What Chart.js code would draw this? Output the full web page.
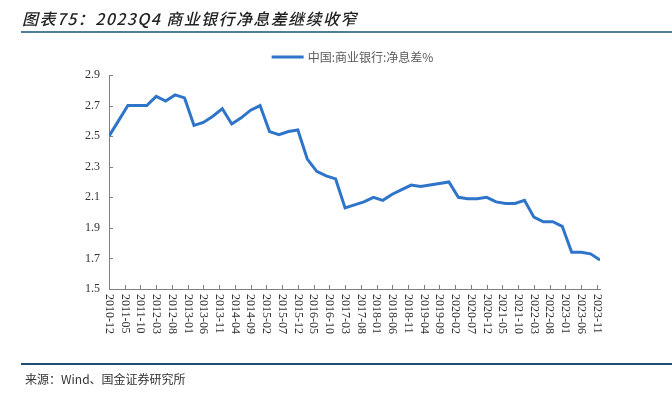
<!DOCTYPE html>
<html>
<head>
<meta charset="utf-8">
<script src="https://cdn.jsdelivr.net/npm/chart.js@4.4.1/dist/chart.umd.min.js"></script>
<style>
  html, body { margin: 0; padding: 0; background: #fff; }
  #page { position: relative; width: 672px; height: 394px; overflow: hidden; }
  #chart-wrap { position: absolute; left: 0; top: 0; width: 672px; height: 394px; }
  .title {
    position: absolute; left: 22px; top: 6px;
    font-family: "Noto Sans CJK SC", sans-serif; font-size: 16px; font-style: italic;
    font-weight: 500; letter-spacing: 1.4px; color: #222; white-space: nowrap;
  }
  .title-rule { position: absolute; left: 21px; right: 0; top: 31px; height: 2px; background: #4f7d9a; }
  .foot-rule { position: absolute; left: 21px; right: 0; top: 363px; height: 2px; background: #1f4e79; }
  .source {
    position: absolute; left: 25px; top: 370px;
    font-family: "Noto Sans CJK SC", sans-serif; font-size: 12px; color: #333; white-space: nowrap;
  }
</style>
</head>
<body>
<div id="page">
  <div id="chart-wrap"><canvas id="nim-chart"></canvas></div>
  <div class="title">图表75：2023Q4 商业银行净息差继续收窄</div>
  <div class="title-rule"></div>
  <div class="foot-rule"></div>
  <div class="source">来源：Wind、国金证券研究所</div>
</div>
<script>
// quarter-end dates and net interest margin (%)
const quarters = [
  '2010-12',
  '2011-03', '2011-06', '2011-09', '2011-12',
  '2012-03', '2012-06', '2012-09', '2012-12',
  '2013-03', '2013-06', '2013-09', '2013-12',
  '2014-03', '2014-06', '2014-09', '2014-12',
  '2015-03', '2015-06', '2015-09', '2015-12',
  '2016-03', '2016-06', '2016-09', '2016-12',
  '2017-03', '2017-06', '2017-09', '2017-12',
  '2018-03', '2018-06', '2018-09', '2018-12',
  '2019-03', '2019-06', '2019-09', '2019-12',
  '2020-03', '2020-06', '2020-09', '2020-12',
  '2021-03', '2021-06', '2021-09', '2021-12',
  '2022-03', '2022-06', '2022-09', '2022-12',
  '2023-03', '2023-06', '2023-09', '2023-12'
];
const nimValues = [
  2.50,
  2.60, 2.70, 2.70, 2.70,
  2.76, 2.73, 2.77, 2.75,
  2.57, 2.59, 2.63, 2.68,
  2.58, 2.62, 2.67, 2.70,
  2.53, 2.51, 2.53, 2.54,
  2.35, 2.27, 2.24, 2.22,
  2.03, 2.05, 2.07, 2.10,
  2.08, 2.12, 2.15, 2.18,
  2.17, 2.18, 2.19, 2.20,
  2.10, 2.09, 2.09, 2.10,
  2.07, 2.06, 2.06, 2.08,
  1.97, 1.94, 1.94, 1.91,
  1.74, 1.74, 1.73, 1.69
];
const xTickLabels = [
  '2010-12', '2011-05', '2011-10', '2012-03', '2012-08', '2013-01', '2013-06', '2013-11',
  '2014-04', '2014-09', '2015-02', '2015-07', '2015-12', '2016-05', '2016-10', '2017-03',
  '2017-08', '2018-01', '2018-06', '2018-11', '2019-04', '2019-09', '2020-02', '2020-07',
  '2020-12', '2021-05', '2021-10', '2022-03', '2022-08', '2023-01', '2023-06', '2023-11'
];
const yTicks = [1.5, 1.7, 1.9, 2.1, 2.3, 2.5, 2.7, 2.9];
const seriesName = '中国:商业银行:净息差%';

// months counted from 2010-12
const monthIndex = (s) => {
  const [y, m] = s.split('-').map(Number);
  return (y - 2010) * 12 + (m - 12);
};
const tickByIndex = {};
xTickLabels.forEach(l => { tickByIndex[monthIndex(l)] = l; });

const lineColor = '#2e75c9';
const axisColor = '#808080';
const labelFont = '12px "Liberation Serif", "Times New Roman", serif';

// ticks pointing inward, rotated x labels and the legend
const decorations = {
  id: 'decorations',
  afterDraw(chart) {
    const { ctx, chartArea, scales } = chart;
    const x = scales.x, y = scales.y;
    ctx.save();
    ctx.strokeStyle = axisColor;
    ctx.lineWidth = 1;
    ctx.beginPath();
    yTicks.forEach(v => {
      const py = Math.round(y.getPixelForValue(v)) + 0.5;
      ctx.moveTo(chartArea.left, py);
      ctx.lineTo(chartArea.left + 4, py);
    });
    x.ticks.forEach(t => {
      const px = Math.round(x.getPixelForValue(t.value)) + 0.5;
      ctx.moveTo(px, chartArea.bottom);
      ctx.lineTo(px, chartArea.bottom - 4);
    });
    ctx.stroke();

    ctx.fillStyle = '#333';
    ctx.font = labelFont;
    ctx.textAlign = 'left';
    ctx.textBaseline = 'middle';
    x.ticks.forEach(t => {
      const px = x.getPixelForValue(t.value);
      ctx.save();
      ctx.translate(px, chartArea.bottom + 5);
      ctx.rotate(Math.PI / 2);
      ctx.fillText(tickByIndex[t.value] || '', 0, 0);
      ctx.restore();
    });

    // legend
    const ds = chart.data.datasets[0];
    ctx.font = '12px "Noto Sans CJK SC", sans-serif';
    const textW = ctx.measureText(ds.label).width;
    const total = 32 + 4 + textW;
    const lx = (chartArea.left + chartArea.right) / 2 - total / 2 - 2;
    const ly = 57;
    ctx.strokeStyle = ds.borderColor;
    ctx.lineWidth = 3;
    ctx.beginPath();
    ctx.moveTo(lx, ly);
    ctx.lineTo(lx + 32, ly);
    ctx.stroke();
    ctx.fillStyle = '#595959';
    ctx.fillText(ds.label, lx + 36, ly);
    ctx.restore();
  }
};

const ctx = document.getElementById('nim-chart').getContext('2d');
new Chart(ctx, {
  type: 'line',
  data: {
    datasets: [{
      label: seriesName,
      data: quarters.map((q, i) => ({ x: monthIndex(q), y: nimValues[i] })),
      borderColor: lineColor,
      backgroundColor: lineColor,
      borderWidth: 3,
      pointRadius: 0,
      tension: 0
    }]
  },
  options: {
    responsive: true,
    maintainAspectRatio: false,
    animation: false,
    layout: { padding: { left: 0, right: 72, top: 75, bottom: 0 } },
    plugins: {
      legend: { display: false },
      tooltip: { enabled: false }
    },
    scales: {
      x: {
        type: 'linear',
        min: 0,
        max: monthIndex(quarters[quarters.length - 1]),
        afterBuildTicks: (scale) => {
          scale.ticks = xTickLabels.map(l => ({ value: monthIndex(l) }));
        },
        afterFit: (scale) => { scale.height = 105; },
        ticks: { display: false },
        grid: { display: false, drawTicks: false },
        border: { display: true, color: axisColor, width: 1 }
      },
      y: {
        min: 1.5,
        max: 2.9,
        afterBuildTicks: (scale) => {
          scale.ticks = yTicks.map(v => ({ value: v }));
        },
        afterFit: (scale) => { scale.width = 109; },
        ticks: {
          padding: 9,
          color: '#333',
          font: { family: '"Liberation Serif", "Times New Roman", serif', size: 12 },
          callback: (v) => Number(v).toFixed(1)
        },
        grid: { display: false, drawTicks: false },
        border: { display: true, color: axisColor, width: 1 }
      }
    }
  },
  plugins: [decorations]
});
</script>
</body>
</html>
